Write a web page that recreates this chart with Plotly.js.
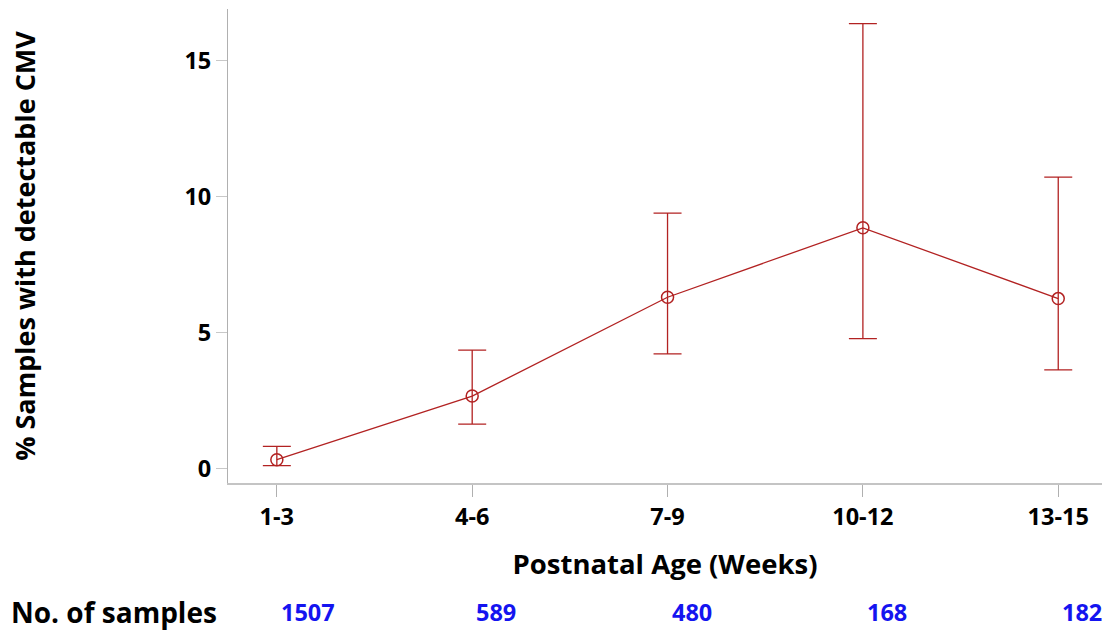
<!DOCTYPE html>
<html>
<head>
<meta charset="utf-8">
<script src="https://cdn.plot.ly/plotly-3.0.1.min.js"></script>
<style>html,body{margin:0;padding:0;background:#fff;overflow:hidden}</style>
</head>
<body>
<div id="chart" style="width:1102px;height:631px"></div>
<script>
const categories = ["1-3", "4-6", "7-9", "10-12", "13-15"];
const percentDetectable = [0.33, 2.67, 6.30, 8.85, 6.25];
const ciUpper = [0.82, 4.36, 9.39, 16.35, 10.71];
const ciLower = [0.11, 1.64, 4.22, 4.78, 3.63];
const sampleCounts = ["1507", "589", "480", "168", "182"];

const errPlus = ciUpper.map((u, i) => u - percentDetectable[i]);
const errMinus = ciLower.map((l, i) => percentDetectable[i] - l);

const red = "rgb(178,34,34)";
const fontFam = "Open Sans, DejaVu Sans, sans-serif";

const trace = {
  x: categories,
  y: percentDetectable,
  type: "scatter",
  mode: "lines+markers",
  line: {color: red, width: 1.3},
  marker: {symbol: "circle-open", size: 12, color: red, line: {width: 1.5, color: red}},
  error_y: {
    type: "data", symmetric: false, array: errPlus, arrayminus: errMinus,
    color: red, thickness: 1.3, width: 14
  },
  showlegend: false,
  hoverinfo: "skip"
};

const rowY = -0.2714;
const annotations = [{
  xref: "paper", yref: "paper", x: -0.2494, y: rowY,
  xanchor: "left", yanchor: "middle", showarrow: false, borderpad: 0,
  text: "<b>No. of samples</b>", font: {family: fontFam, size: 28, color: "#000"}
}];
categories.forEach((c, i) => {
  annotations.push({
    xref: "x", yref: "paper", x: c, y: rowY, xanchor: "left", yanchor: "middle",
    xshift: 3, showarrow: false, borderpad: 0, text: "<b>" + sampleCounts[i] + "</b>",
    font: {family: fontFam, size: 23.5, color: "#1414F0"}
  });
});

const layout = {
  width: 1102, height: 631,
  margin: {l: 228, r: 0, t: 9, b: 148},
  paper_bgcolor: "#fff", plot_bgcolor: "#fff",
  font: {family: fontFam, color: "#000"},
  xaxis: {
    type: "category", range: [-0.25, 4.224],
    showline: true, linecolor: "#c4c4c4", linewidth: 1.5, mirror: false,
    showgrid: false, zeroline: false,
    ticks: "outside", ticklen: 12, tickcolor: "#b0b0b0", tickwidth: 1,
    tickfont: {family: fontFam, size: 23.5, color: "#000", weight: "bold"},
    title: {text: "<b>Postnatal Age (Weeks)</b>", font: {family: fontFam, size: 27.5, color: "#000"}, standoff: 24}
  },
  yaxis: {
    range: [-0.525, 16.89],
    tickvals: [0, 5, 10, 15], ticktext: ["0", "5", "10", "15"],
    showline: true, linecolor: "#b0b0b0", linewidth: 1,
    showgrid: false, zeroline: false,
    ticks: "outside", ticklen: 11, tickcolor: "#c8c8c8", tickwidth: 1.5,
    tickfont: {family: fontFam, size: 23.5, color: "#000", weight: "bold"},
    title: {text: "<b>% Samples with detectable CMV</b>", font: {family: fontFam, size: 27, color: "#000"}, standoff: 140}
  },
  annotations: annotations
};

Plotly.newPlot("chart", [trace], layout, {displayModeBar: false, staticPlot: true});
</script>
</body>
</html>
